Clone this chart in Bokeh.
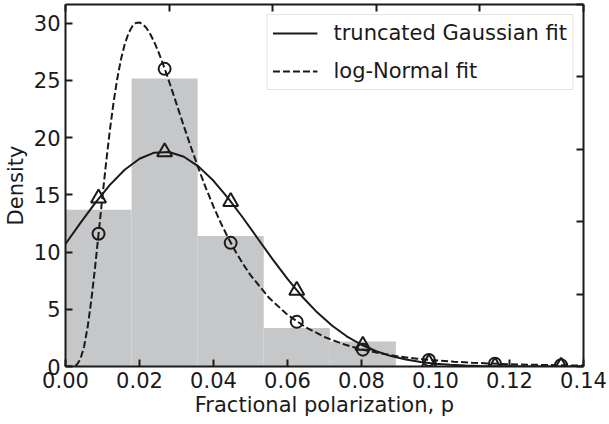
from bokeh.plotting import figure
from bokeh.models import (Range1d, LinearAxis, FixedTicker, Legend,
                          LegendItem, ColumnDataSource)
from bokeh.embed import file_html
from bokeh.resources import INLINE

# ---------------- data ----------------
bin_edges = [0.0, 0.017857, 0.035714, 0.053571, 0.071429, 0.089286,
             0.107143, 0.125, 0.142857]
hist_density = [13.7, 25.15, 11.4, 3.37, 2.19, 0.0, 0.0, 0.0]

bin_centers = [0.00893, 0.02679, 0.04464, 0.0625, 0.08036, 0.09821,
               0.11607, 0.13393]
gauss_at_bins = [14.7, 18.75, 14.4, 6.65, 1.85, 0.31, 0.03, 0.0]
lognorm_at_bins = [11.6, 26.0, 10.8, 3.9, 1.47, 0.57, 0.25, 0.11]

gauss_x = [0.000, 0.004, 0.008, 0.012, 0.016, 0.020, 0.024, 0.028, 0.032,
           0.036, 0.040, 0.044, 0.048, 0.052, 0.056, 0.060, 0.064, 0.068,
           0.072, 0.076, 0.080, 0.084, 0.088, 0.092, 0.096, 0.100, 0.104,
           0.108, 0.112, 0.116, 0.120, 0.124, 0.128, 0.132, 0.136, 0.140]
gauss_y = [10.70, 12.52, 14.27, 15.86, 17.19, 18.15, 18.68, 18.74, 18.32,
           17.46, 16.22, 14.69, 12.97, 11.16, 9.36, 7.65, 6.09, 4.73,
           3.58, 2.64, 1.90, 1.33, 0.91, 0.61, 0.39, 0.25, 0.15,
           0.09, 0.05, 0.03, 0.02, 0.01, 0.01, 0.0, 0.0, 0.0]

lognorm_x = [0.000, 0.001, 0.002, 0.003, 0.004, 0.005, 0.006, 0.007, 0.008,
             0.009, 0.010, 0.011, 0.012, 0.013, 0.014, 0.015, 0.016, 0.017,
             0.018, 0.019, 0.020, 0.021, 0.022, 0.023, 0.024, 0.025, 0.026,
             0.027, 0.028, 0.029, 0.030, 0.032, 0.034, 0.036, 0.038, 0.040,
             0.042, 0.044, 0.046, 0.048, 0.050, 0.055, 0.060, 0.065, 0.070,
             0.075, 0.080, 0.085, 0.090, 0.095, 0.100, 0.105, 0.110, 0.115,
             0.120, 0.125, 0.130, 0.135, 0.140]
lognorm_y = [0.0, 0.0, 0.01, 0.13, 0.62, 1.70, 3.47, 5.86, 8.69,
             11.77, 14.89, 17.89, 20.66, 23.09, 25.16, 26.84, 28.14, 29.08,
             29.69, 30.00, 30.05, 29.88, 29.51, 28.98, 28.33, 27.57, 26.73,
             25.83, 24.89, 23.92, 22.94, 20.98, 19.07, 17.25, 15.54, 13.97,
             12.52, 11.21, 10.02, 8.95, 7.98, 6.00, 4.52, 3.41, 2.58,
             1.96, 1.49, 1.15, 0.88, 0.68, 0.53, 0.42, 0.33, 0.26,
             0.20, 0.16, 0.13, 0.10, 0.08]

x_ticks = [0.0, 0.02, 0.04, 0.06, 0.08, 0.10, 0.12, 0.14]
x_tick_labels = ["0.00", "0.02", "0.04", "0.06", "0.08", "0.10", "0.12", "0.14"]
y_ticks = [0, 5, 10, 15, 20, 25, 30]
y_tick_labels = ["0", "5", "10", "15", "20", "25", "30"]
twin_ticks = [0.0, 0.2, 0.4, 0.6, 0.8, 1.0]

legend_labels = ["truncated Gaussian fit", "log-Normal fit"]
x_label = "Fractional polarization, p"
y_label = "Density"

# ---------------- styling ----------------
INK = "#1a1a1a"
FONT = "DejaVu Sans"
FS = "21px"
BAR = "#c6c7c9"

p = figure(width=609, height=424,
           x_range=Range1d(0, 0.14), y_range=Range1d(0, 31.62),
           output_backend="svg", toolbar_location=None,
           min_border_left=63, min_border_right=26,
           min_border_top=4, min_border_bottom=58)
p.extra_x_ranges = {"top": Range1d(0, 1)}
p.extra_y_ranges = {"right": Range1d(0, 1)}

p.xgrid.visible = False
p.ygrid.visible = False
p.outline_line_color = None
p.background_fill_color = "white"
p.border_fill_color = "white"


def style_axis(ax, ticks, labels=None):
    ax.ticker = FixedTicker(ticks=ticks)
    ax.axis_line_color = INK
    ax.axis_line_width = 2
    ax.major_tick_line_color = INK
    ax.major_tick_line_width = 2
    ax.major_tick_in = 7
    ax.major_tick_out = 0
    ax.minor_tick_line_color = None
    if labels is None:
        ax.axis_label = None
        ax.major_label_text_font_size = "0px"
        ax.major_label_standoff = 0
        ax.major_label_overrides = {t: "" for t in ticks}
    else:
        ax.major_label_overrides = dict(zip(ticks, labels))
        ax.major_label_text_font = FONT
        ax.major_label_text_font_size = FS
        ax.major_label_text_color = INK
        ax.axis_label_text_font = FONT
        ax.axis_label_text_font_size = FS
        ax.axis_label_text_font_style = "normal"
        ax.axis_label_text_color = INK


xa = p.xaxis[0]
style_axis(xa, x_ticks, x_tick_labels)
xa.major_label_standoff = 5
xa.axis_label = x_label
xa.axis_label_standoff = 2

ya = p.yaxis[0]
style_axis(ya, y_ticks, y_tick_labels)
ya.major_label_standoff = 5
ya.axis_label = y_label
ya.axis_label_standoff = 3

top_axis = LinearAxis(x_range_name="top")
style_axis(top_axis, twin_ticks)
p.add_layout(top_axis, "above")
right_axis = LinearAxis(y_range_name="right")
style_axis(right_axis, twin_ticks)
p.add_layout(right_axis, "right")

# histogram
hist_src = ColumnDataSource(dict(left=bin_edges[:-1], right=bin_edges[1:],
                                 top=hist_density,
                                 bottom=[0.0] * len(hist_density)))
p.quad(left="left", right="right", top="top", bottom="bottom",
       source=hist_src, fill_color=BAR, line_color=None)

# fit curves
g_line = p.line(gauss_x, gauss_y, line_color=INK, line_width=2)
l_line = p.line(lognorm_x, lognorm_y, line_color=INK, line_width=2,
                line_dash="7 3")

# model values at bin centres
p.scatter(bin_centers, gauss_at_bins, marker="triangle", size=15,
          fill_color=None, line_color=INK, line_width=2)
p.scatter(bin_centers, lognorm_at_bins, marker="circle", size=12,
          fill_color=None, line_color=INK, line_width=2)

legend = Legend(items=[LegendItem(label=legend_labels[0], renderers=[g_line]),
                       LegendItem(label=legend_labels[1], renderers=[l_line])],
                location="top_right", margin=10, padding=5, spacing=12,
                glyph_width=45, glyph_height=26, label_height=26,
                label_standoff=16, label_text_font=FONT,
                label_text_font_size=FS, label_text_color=INK,
                border_line_color="#cccccc", border_line_width=1,
                background_fill_color="white", background_fill_alpha=0.8)
p.add_layout(legend)

open("out.html", "w").write(file_html(p, INLINE))
